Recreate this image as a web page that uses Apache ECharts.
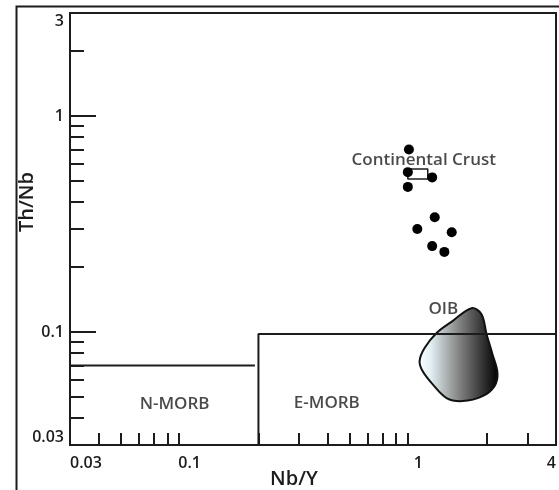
<!DOCTYPE html>
<html>
<head>
<meta charset="utf-8">
<script src="https://cdn.jsdelivr.net/npm/echarts@6/dist/echarts.min.js"></script>
<style>
html,body{margin:0;padding:0;background:#fff;}
#chart{width:559px;height:490px;}
</style>
</head>
<body>
<div id="chart"></div>
<script>
// ---- data ----
const xTickValues = [0.04, 0.05, 0.06, 0.07, 0.08, 0.09, 0.2, 0.3, 0.4, 0.5, 0.6, 0.7, 0.8, 0.9, 2, 3];
const xLabelValues = [0.03, 0.1, 1, 4];
const yMinorTickValues = [0.04, 0.05, 0.06, 0.07, 0.08, 0.09, 0.2, 0.3, 0.4, 0.5, 0.6, 0.7, 0.8, 0.9, 2];
const yMajorTickValues = [0.1, 1];
const yLabelValues = [0.03, 0.1, 1, 3];

const sampleNbY  = [0.91, 0.90, 1.15, 0.90, 1.18, 0.99, 1.40, 1.15, 1.30];
const sampleThNb = [0.70, 0.55, 0.52, 0.47, 0.34, 0.30, 0.29, 0.25, 0.235];

const crustNbY  = [0.90, 1.10, 1.10, 0.90, 0.90];
const crustThNb = [0.568, 0.568, 0.511, 0.511, 0.568];

const nmorbNbY  = [0.03, 0.193];
const nmorbThNb = [0.07, 0.07];

const emorbNbY  = [4, 0.2, 0.2];
const emorbThNb = [0.098, 0.098, 0.03];

const oibNbY  = [1.708, 1.889, 1.987, 2.110, 2.219, 2.153, 1.909, 1.561, 1.329, 1.154, 1.044, 1.013, 1.065, 1.202, 1.411];
const oibThNb = [0.129, 0.121, 0.098, 0.079, 0.0646, 0.0562, 0.0505, 0.0479, 0.0495, 0.0574, 0.0660, 0.0734, 0.0843, 0.0990, 0.1124];

const regionNames = ['N-MORB', 'E-MORB', 'OIB', 'Continental Crust'];
const regionNbY   = [0.086, 0.398, 1.287, 1.056];
const regionThNb  = [0.0464, 0.0469, 0.128, 0.625];

// ---- chart ----
const ink = '#1c1c1c';
const font = '"Open Sans", "Noto Sans", sans-serif';
const weight = 600;
const chart = echarts.init(document.getElementById('chart'), null, {renderer: 'canvas'});

const lineStyle = {color: ink, width: 2};
const zip = (a, b) => a.map((v, i) => [v, b[i]]);

chart.setOption({
  animation: false,
  backgroundColor: '#fff',
  textStyle: {fontFamily: font},
  graphic: [{
    type: 'rect', left: 14, top: 4, z: 100,
    shape: {width: 700, height: 700},
    style: {fill: 'none', stroke: ink, lineWidth: 2}
  }],
  grid: {left: 70, top: 13, right: 3, bottom: 45, show: true, borderColor: ink, borderWidth: 2,
    backgroundColor: 'transparent', containLabel: false, outerBoundsMode: 'none'},
  xAxis: {
    type: 'log', logBase: 10, min: 0.03, max: 4,
    name: 'Nb/Y', nameLocation: 'middle', nameGap: 24, nameMoveOverlap: false,
    nameTextStyle: {fontSize: 20, color: ink, fontFamily: font, fontWeight: weight, padding: [0, 38, 0, 0]},
    axisLine: {show: true, lineStyle: {color: ink, width: 2}},
    axisTick: {show: true, inside: true, length: 12, lineStyle: {color: ink, width: 2}, customValues: xTickValues},
    axisLabel: {show: true, customValues: xLabelValues, fontSize: 16, color: ink, fontFamily: font, fontWeight: weight, margin: 10,
      alignMinLabel: 'left', alignMaxLabel: 'right',
      formatter: v => String(v)},
    splitLine: {show: false},
    minorTick: {show: false}
  },
  yAxis: [{
    type: 'log', logBase: 10, min: 0.03, max: 3,
    name: 'Th/Nb', nameLocation: 'middle', nameGap: 33, nameMoveOverlap: false,
    nameTextStyle: {fontSize: 20, color: ink, fontFamily: font, fontWeight: weight, padding: [0, 0, 0, 54]},
    axisLine: {show: true, lineStyle: {color: ink, width: 2}},
    axisTick: {show: true, inside: true, length: 14, lineStyle: {color: ink, width: 2}, customValues: yMinorTickValues},
    axisLabel: {show: true, customValues: yLabelValues, fontSize: 16, color: ink, fontFamily: font, fontWeight: weight, margin: 6,
      verticalAlignMinLabel: 'bottom', verticalAlignMaxLabel: 'top',
      formatter: v => String(v)},
    splitLine: {show: false}
  }, {
    type: 'log', logBase: 10, min: 0.03, max: 3, position: 'left',
    axisLine: {show: false},
    axisTick: {show: true, inside: true, length: 26, lineStyle: {color: ink, width: 2}, customValues: yMajorTickValues},
    axisLabel: {show: false},
    splitLine: {show: false}
  }],
  series: [
    {
      type: 'custom', z: 1, silent: true,
      data: [[oibNbY[0], oibThNb[0]]],
      renderItem: function (params, api) {
        const pts = oibNbY.map((x, i) => api.coord([x, oibThNb[i]]));
        return {
          type: 'polygon',
          shape: {points: pts, smooth: 0.35},
          style: {
            fill: {type: 'linear', x: 0, y: 0, x2: 1, y2: 0, colorStops: [
              {offset: 0, color: '#ffffff'},
              {offset: 0.15, color: '#e2eff3'},
              {offset: 0.5, color: '#858585'},
              {offset: 0.85, color: '#262626'},
              {offset: 1, color: '#000000'}
            ]},
            stroke: '#111', lineWidth: 2
          }
        };
      }
    },
    {type: 'line', z: 3, symbol: 'none', lineStyle: lineStyle, data: zip(nmorbNbY, nmorbThNb)},
    {type: 'line', z: 3, symbol: 'none', lineStyle: lineStyle, data: zip(emorbNbY, emorbThNb)},
    {type: 'line', z: 3, symbol: 'none', lineStyle: {color: ink, width: 1.5}, data: zip(crustNbY, crustThNb)},
    {type: 'scatter', z: 5, symbol: 'circle', symbolSize: 10, itemStyle: {color: '#000', opacity: 1}, data: zip(sampleNbY, sampleThNb)},
    {
      type: 'scatter', z: 4, symbolSize: 0, silent: true,
      data: regionNames.map((n, i) => ({name: n, value: [regionNbY[i], regionThNb[i]]})),
      label: {show: true, position: 'inside', formatter: p => p.name, fontSize: 17, color: ink, fontFamily: font, fontWeight: weight}
    }
  ]
});
</script>
</body>
</html>
